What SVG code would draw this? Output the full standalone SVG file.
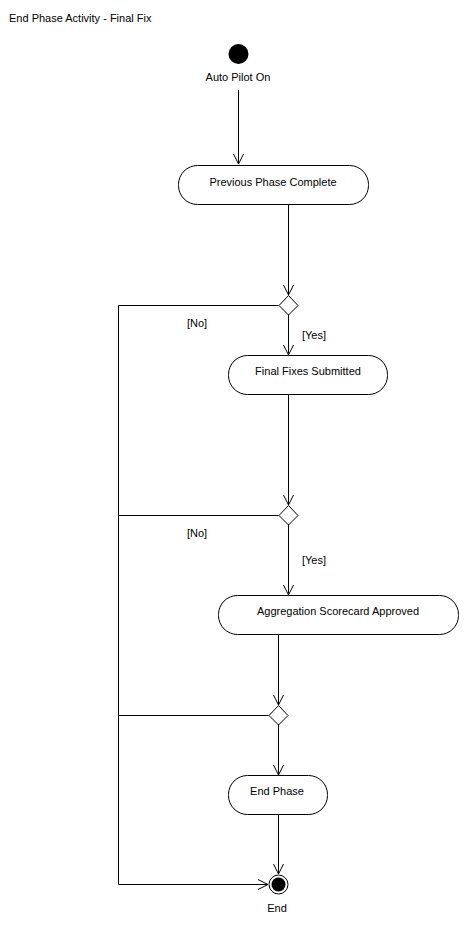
<svg xmlns="http://www.w3.org/2000/svg" width="470" height="925" viewBox="0 0 470 925">
<defs>
<marker id="arr" markerUnits="userSpaceOnUse" markerWidth="14" markerHeight="14" viewBox="-12 -7 14 14" refX="0" refY="0" orient="auto">
<path d="M-10,-5 L0,0 L-10,5" fill="none" stroke="#000" stroke-width="1"/>
</marker>
<style>
text{font-family:"Liberation Sans",Arial,sans-serif;font-size:11px;fill:#000}
.c{text-anchor:middle}
.n{fill:#fff;stroke:#000;stroke-width:1}
.e{fill:none;stroke:#000;stroke-width:1}
</style>
</defs>
<rect width="470" height="925" fill="#fff"/>
<text x="9" y="22">End Phase Activity - Final Fix</text>
<g id="connectors">
<path class="e" d="M238.5,90 V164" marker-end="url(#arr)"/>
<path class="e" d="M288.5,204 V295" marker-end="url(#arr)"/>
<path class="e" d="M288.5,314 V355" marker-end="url(#arr)"/>
<path class="e" d="M278.5,305.5 H118.5 V884.5"/>
<path class="e" d="M288.5,394 V505" marker-end="url(#arr)"/>
<path class="e" d="M288.5,524 V595" marker-end="url(#arr)"/>
<path class="e" d="M278.5,515.5 H118.5"/>
<path class="e" d="M278.5,634 V705" marker-end="url(#arr)"/>
<path class="e" d="M278.5,724 V775" marker-end="url(#arr)"/>
<path class="e" d="M268.5,715.5 H118.5"/>
<path class="e" d="M278.5,814 V874" marker-end="url(#arr)"/>
<path class="e" d="M118.5,884.5 H268" marker-end="url(#arr)"/>
<text x="197" y="327" class="c">[No]</text>
<text x="314" y="339" class="c">[Yes]</text>
<text x="197" y="537" class="c">[No]</text>
<text x="314" y="564" class="c">[Yes]</text>
</g>
<g id="start">
<circle cx="238.5" cy="54" r="10" fill="#000"/>
<text x="238" y="81" class="c">Auto Pilot On</text>
</g>
<g id="previous-phase-complete">
<rect class="n" x="178.5" y="165.5" width="190" height="39" rx="19" ry="19"/>
<text x="273" y="186" class="c">Previous Phase Complete</text>
</g>
<g id="decision1">
<path class="n" d="M288.5,295.5 L298,305.5 L288.5,315 L279,305.5 Z"/>
</g>
<g id="final-fixes-submitted">
<rect class="n" x="228.5" y="355.5" width="159" height="39" rx="19" ry="19"/>
<text x="308" y="375" class="c">Final Fixes Submitted</text>
</g>
<g id="decision2">
<path class="n" d="M288.5,505.5 L298,515.5 L288.5,525 L279,515.5 Z"/>
</g>
<g id="aggregation-scorecard-approved">
<rect class="n" x="218.5" y="595.5" width="240" height="39" rx="19" ry="19"/>
<text x="338" y="615" class="c">Aggregation Scorecard Approved</text>
</g>
<g id="decision3">
<path class="n" d="M278.5,705.5 L288,715.5 L278.5,725 L269,715.5 Z"/>
</g>
<g id="end-phase">
<rect class="n" x="228.5" y="775.5" width="99" height="39" rx="19" ry="19"/>
<text x="277" y="795" class="c">End Phase</text>
</g>
<g id="end">
<circle cx="278.5" cy="884.5" r="9.5" fill="#fff" stroke="#000"/>
<circle cx="278.5" cy="884.5" r="7" fill="#000"/>
<text x="277" y="912" class="c">End</text>
</g>
</svg>
